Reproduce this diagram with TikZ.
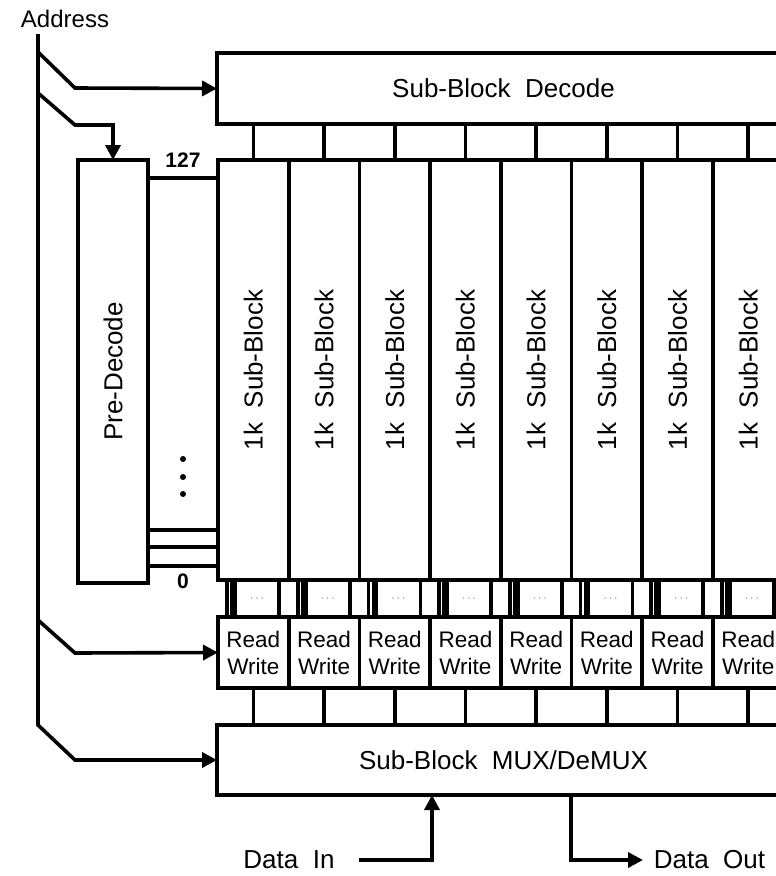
\documentclass[tikz,border=0pt]{standalone}
\usepackage{fontspec}
\setmainfont{Liberation Sans}
\usetikzlibrary{arrows.meta,positioning}
\begin{document}
\begin{tikzpicture}[x=1pt,y=-1pt,line width=3.6pt,
  >={Triangle[length=15pt,width=15pt]},
  blk/.style={draw, inner sep=0pt, outer sep=0pt, anchor=north west},
  bigtxt/.style={font=\fontsize{26}{26}\selectfont},
  rwtxt/.style={font=\fontsize{22.5}{27}\selectfont, align=center},
  numtxt/.style={font=\bfseries\fontsize{21}{21}\selectfont}]
\useasboundingbox (0,0) rectangle (776,876);
\clip (0,0) rectangle (776,876);
% decode, pre-decode, mux
\node[blk, bigtxt, minimum width=573pt, minimum height=71pt] (dec) at (217,53) {Sub-Block\ \ Decode};
\node[blk, bigtxt, minimum width=70pt, minimum height=423pt] (pre) at (78,160) {\rotatebox{90}{Pre-Decode}};
\node[blk, bigtxt, minimum width=573pt, minimum height=70pt] (mux) at (217,725) {Sub-Block\ \ MUX/DeMUX};
% sub-blocks and read/write
\foreach \i in {0,...,7} {
  \node[blk, bigtxt, minimum width=70.7pt, minimum height=420pt] (sb\i) at (218+70.7*\i,160) {\rotatebox{90}{1k\ \ Sub-Block}};
  \node[blk, rwtxt, minimum width=70.7pt, minimum height=71pt] (rw\i) at (218+70.7*\i,617) {Read\\Write};
  \node[blk, text=black!55, font=\large, minimum width=44pt, minimum height=37pt] (dt\i) at ([xshift=17pt]sb\i.south west) {$\cdots$};
  \draw ([xshift=9pt]sb\i.south west) -- ([xshift=9pt]rw\i.north west);
  \draw ([xshift=14pt]sb\i.south west) -- ([xshift=14pt]rw\i.north west);
  \draw (dec.south -| sb\i.north) -- (sb\i.north);
  \draw (rw\i.south) -- (rw\i.south |- mux.north);
}
% word lines
\foreach \y in {178,530,547,566}
  \draw (pre.east |- 0,\y) -- (sb0.west |- 0,\y);
\node[numtxt] (top) at (183,160) {127};
\node[numtxt] (bot) at (183,581) {0};
\foreach \y in {459,477,494}
  \fill (183,\y) circle (3pt);
% address bus
\node[font=\fontsize{24}{24}\selectfont] (addr) at (65,19) {Address};
\coordinate (bus) at (38,34);
\coordinate (tapA) at (38,52);
\coordinate (tapB) at (38,93);
\coordinate (tapC) at (38,620);
\draw[->] (bus) -- ++(0,691) -- ++(37,35) -- (mux.west);
\draw[->] (tapA) -- ++(37,36) -- (dec.west);
\draw[->] (tapB) -- ++(37,32) -| (pre.north);
\draw[->] (tapC) -- ++(37,33) -- (rw0.west);
% data in / out
\node[bigtxt] (din) at (289,860) {Data\ \ In};
\node[bigtxt, anchor=west, inner sep=0pt] (dout) at (652,860) {Data\ \ Out};
\coordinate (muxin) at (432,795);
\coordinate (muxout) at (571,795);
\draw[->] ([xshift=19pt]din.east) -| (muxin);
\draw[->] (muxout) |- ([xshift=-9pt]dout.west);
\end{tikzpicture}
\end{document}
